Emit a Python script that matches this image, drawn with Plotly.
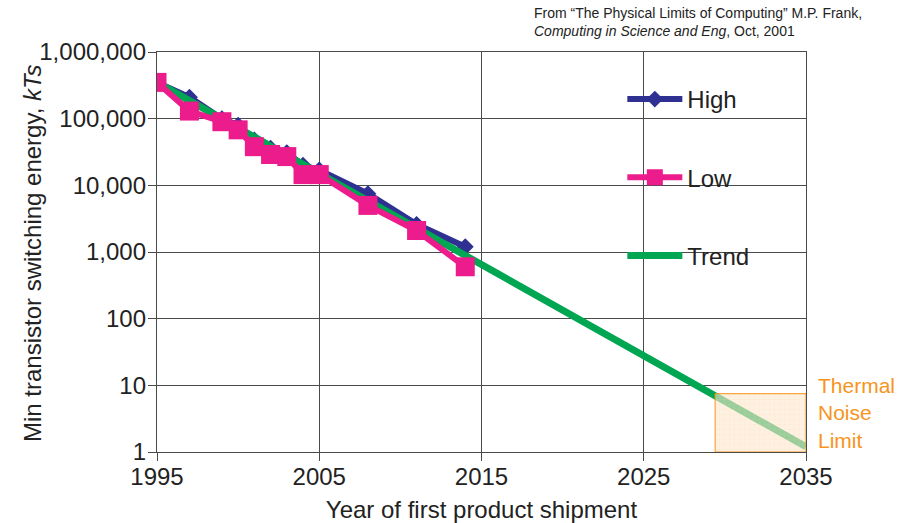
import plotly.graph_objects as go

# Minimum switching energy (in kT) by year of first product shipment
high_years = [1995, 1997, 1999, 2000, 2001, 2002, 2003, 2004, 2005, 2008, 2011, 2014]
high_values = [350000, 210000, 100000, 80000, 48000, 36000, 31000, 20000, 17000, 7500, 2600, 1200]

low_years = [1995, 1997, 1999, 2000, 2001, 2002, 2003, 2004, 2005, 2008, 2011, 2014]
low_values = [350000, 130000, 90000, 68000, 38000, 29000, 27000, 14500, 14500, 5000, 2100, 600]

trend_years = [1995, 2035]
trend_values = [350000, 1.2]

# Thermal noise limit region
limit_years = [2029.4, 2035]
limit_values = [1, 7.5]

y_tickvals = [1, 10, 100, 1000, 10000, 100000, 1000000]
y_ticktext = ["1", "10", "100", "1,000", "10,000", "100,000", "1,000,000"]
x_tickvals = [1995, 2005, 2015, 2025, 2035]

BLUE = "#2e3192"
PINK = "#ec1c8c"
GREEN = "#00a651"
ORANGE = "#f7941d"
TEXT = "#222222"
FONT = "Arial, Liberation Sans, sans-serif"

fig = go.Figure()

fig.add_trace(go.Scatter(
    x=high_years, y=high_values, name="High", mode="lines+markers",
    line=dict(color=BLUE, width=6),
    marker=dict(symbol="diamond", size=13, color=BLUE),
    legendgroup="high", legendrank=1,
))
fig.add_trace(go.Scatter(
    x=trend_years, y=trend_values, name="Trend", mode="lines",
    line=dict(color=GREEN, width=7),
    legendgroup="trend", legendrank=3,
))
fig.add_trace(go.Scatter(
    x=low_years, y=low_values, name="Low", mode="lines+markers",
    line=dict(color=PINK, width=6),
    marker=dict(symbol="square", size=19, color=PINK),
    legendgroup="low", legendrank=2,
))

# Translucent hatched box marking the thermal noise limit
x0, x1 = limit_years
y0, y1 = limit_values
fig.add_trace(go.Scatter(
    x=[x0, x1, x1, x0, x0], y=[y0, y0, y1, y1, y0],
    mode="lines", fill="toself", showlegend=False, hoverinfo="skip",
    line=dict(color=ORANGE, width=1),
    fillcolor="rgba(255,225,190,0.6)",
    fillpattern=dict(shape="+", size=5, solidity=0.15,
                     fgcolor="rgba(250,200,140,0.6)",
                     bgcolor="rgba(255,232,205,0.6)"),
))

axis_common = dict(
    showgrid=True, gridcolor="#4a4a4a", gridwidth=1.3,
    showline=True, linecolor="#4a4a4a", linewidth=1.3, mirror=True,
    ticks="outside", ticklen=8, tickcolor="#4a4a4a", tickwidth=1.3,
    tickfont=dict(family=FONT, size=24, color=TEXT),
    zeroline=False, automargin=False,
)

fig.update_xaxes(
    range=[1995, 2035], tickvals=x_tickvals, ticklabelstandoff=-5,
    title=dict(text="Year of first product shipment",
               font=dict(family=FONT, size=24, color=TEXT)),
    **axis_common,
)
fig.update_yaxes(
    type="log", range=[0, 6], tickvals=y_tickvals, ticktext=y_ticktext,
    ticklabelstandoff=-3,
    **axis_common,
)

fig.update_layout(
    width=900, height=523,
    margin=dict(l=157, r=94, t=52, b=71),
    paper_bgcolor="white", plot_bgcolor="white",
    font=dict(family=FONT, color=TEXT),
    legend=dict(
        x=0.717, y=0.9375, xanchor="left", yanchor="top",
        bgcolor="rgba(0,0,0,0)", font=dict(family=FONT, size=24, color=TEXT),
        tracegroupgap=44, itemsizing="trace", itemwidth=55,
    ),
    annotations=[
        dict(xref="paper", yref="paper", x=-0.1926, y=0.495,
             xanchor="center", yanchor="middle", textangle=-90, showarrow=False,
             text="Min transistor switching energy, <i>kTs</i>",
             font=dict(family=FONT, size=24, color=TEXT)),
        dict(xref="paper", yref="paper", x=0.578, y=1.1225,
             xanchor="left", yanchor="top", align="left", showarrow=False,
             text="From \u201cThe Physical Limits of Computing\u201d M.P. Frank,<br>"
                  "<i>Computing in Science and Eng</i>, Oct, 2001",
             font=dict(family=FONT, size=14, color=TEXT)),
        dict(xref="paper", yref="paper", x=1.0154, y=0.0975,
             xanchor="left", yanchor="middle", align="left", showarrow=False,
             text="Thermal<br>Noise<br>Limit",
             font=dict(family=FONT, size=21, color=ORANGE)),
    ],
)

fig.write_html("out.html")
